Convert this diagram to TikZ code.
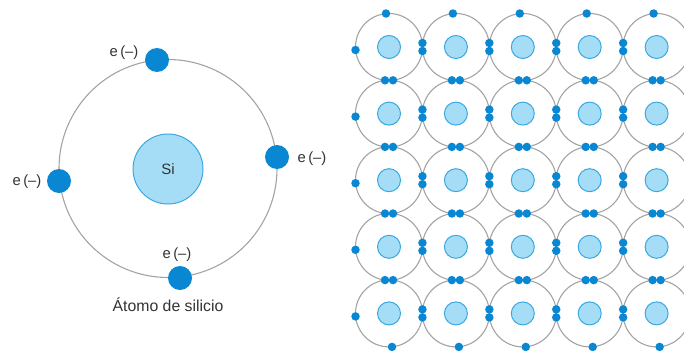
\documentclass[tikz,border=0pt]{standalone}
\usepackage{fontspec}
\setmainfont{Liberation Sans}
\begin{document}
\definecolor{orbit}{HTML}{A3A3A3}
\definecolor{nucfill}{HTML}{A6DDF6}
\definecolor{nucline}{HTML}{3AA8E0}
\definecolor{electron}{HTML}{0A87D2}
\definecolor{labeltext}{HTML}{333333}
\begin{tikzpicture}[x=1pt,y=-1pt,
  orbitline/.style={draw=orbit,line width=1.1pt},
  nucleus/.style={circle,fill=nucfill,draw=nucline,line width=1pt,inner sep=0pt},
  bigelec/.style={circle,fill=electron,inner sep=0pt,minimum size=24pt},
  smallelec/.style={circle,fill=electron,inner sep=0pt,minimum size=8.5pt},
  elabel/.style={text=labeltext,font=\fontsize{14.8}{16}\selectfont,inner sep=0pt}]
\useasboundingbox (0,0) rectangle (684,356);
\clip (0,0) rectangle (684,356);

% ---- single silicon atom ----
\draw[orbitline] (168,168.5) circle (109);
\node[nucleus,minimum size=70pt,font=\fontsize{15}{17}\selectfont,text=labeltext] (si) at (168,169) {Si};
\node[bigelec] (e1) at (157,60) {};
\node[bigelec] (e2) at (277,157) {};
\node[bigelec] (e3) at (59,181) {};
\node[bigelec] (e4) at (180,278) {};
\node[elabel] (l1) at (124,53) {e\,(–)};
\node[elabel] (l2) at (312,159) {e\,(–)};
\node[elabel] (l3) at (27,182) {e\,(–)};
\node[elabel] (l4) at (177,255) {e\,(–)};
\node[elabel,font=\fontsize{15.8}{18}\selectfont] (cap) at (168,305) {Átomo de silicio};

% ---- crystal lattice ----
\foreach \i in {0,...,4}{
  \foreach \j in {0,...,4}{
    \pgfmathsetmacro{\cx}{389+66.9*\i}
    \pgfmathsetmacro{\cy}{47+66.6*\j}
    \draw[orbitline] (\cx,\cy) circle (33.5);
    \node[nucleus,minimum size=23pt] (n\i\j) at (\cx,\cy) {};
  }
}
% shared pairs between horizontal neighbours
\foreach \i in {0,...,3}{
  \foreach \j in {0,...,4}{
    \pgfmathsetmacro{\cx}{389+66.9*\i+33.45}
    \pgfmathsetmacro{\cy}{47+66.6*\j}
    \node[smallelec] (h\i\j a) at (\cx,\cy-4) {};
    \node[smallelec] (h\i\j b) at (\cx,\cy+4) {};
  }
}
% shared pairs between vertical neighbours
\foreach \i in {0,...,4}{
  \foreach \j in {0,...,3}{
    \pgfmathsetmacro{\cx}{389+66.9*\i}
    \pgfmathsetmacro{\cy}{47+66.6*\j+33.3}
    \node[smallelec] (v\i\j a) at (\cx-4,\cy) {};
    \node[smallelec] (v\i\j b) at (\cx+4,\cy) {};
  }
}
% lone electrons on the outer edges
\foreach \i in {0,...,4}{
  \pgfmathsetmacro{\cx}{389+66.9*\i}
  \node[smallelec] (t\i) at (\cx-3,13.5) {};
  \node[smallelec] (b\i) at (\cx+3,313.4+33.5) {};
}
\foreach \j in {0,...,4}{
  \pgfmathsetmacro{\cy}{47+66.6*\j}
  \node[smallelec] (w\j) at (355.5,\cy+3) {};
}
\end{tikzpicture}
\end{document}
